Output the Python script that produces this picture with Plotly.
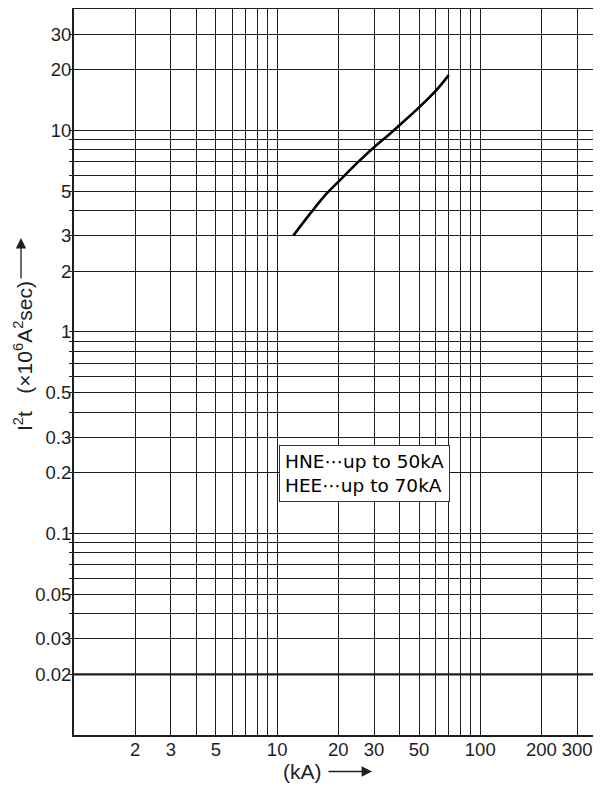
import math
import plotly.graph_objects as go

# ---- data ----
curve_ka = [12, 14.8, 17.5, 20, 25, 30, 35, 40, 50, 60, 70]
curve_i2t = [3.0, 3.95, 4.85, 5.55, 6.95, 8.25, 9.4, 10.6, 13.0, 15.6, 18.8]

x_major = [2, 3, 5, 10, 20, 30, 50, 100, 200, 300]
x_minor = [4, 6, 7, 8, 9, 40, 60, 70, 80, 90]

y_major = [30, 20, 10, 5, 3, 2, 1, 0.5, 0.3, 0.2, 0.1, 0.05, 0.03, 0.02]
y_major_text = ["30", "20", "10", "5", "3", "2", "1", "0.5", "0.3", "0.2",
                "0.1", "0.05", "0.03", "0.02"]
y_minor = [9, 8, 7, 6, 4, 0.9, 0.8, 0.7, 0.6, 0.4,
           0.09, 0.08, 0.07, 0.06, 0.04]

x_min, x_max = 1, 393
y_min, y_max = 0.01, 40
ref_line_y = 0.02

note_lines = ["HNE⋯up to 50kA", "HEE⋯up to 70kA"]

INK = "#1e1e1e"
FONT = "Liberation Sans, Arial, sans-serif"

# page has an 8px body margin: the figure is placed at (8, 8)
OFF = 8
PAGE_W, PAGE_H = 601, 787
W, H = PAGE_W - OFF, PAGE_H - OFF
# plot area in page pixels: left 74, top 9, bottom 735, right 601
ML = 74 - OFF
MT = 9 - OFF
MB = H - (735 - OFF)
MR = 0
PW, PH = W - ML - MR, H - MT - MB


def px(xp):
    return (xp - OFF - ML) / PW


def py(yp):
    return (H - MB - (yp - OFF)) / PH


fig = go.Figure()

fig.add_trace(go.Scatter(
    x=[x_min, x_max], y=[ref_line_y, ref_line_y], mode="lines",
    line=dict(color=INK, width=2.2), hoverinfo="skip", showlegend=False,
))

fig.add_trace(go.Scatter(
    x=curve_ka, y=curve_i2t, mode="lines",
    line=dict(color="#000000", width=2.6, shape="spline", smoothing=1.0),
    showlegend=False,
))

grid = dict(showgrid=True, gridcolor=INK, gridwidth=1.2)
NB = "\u00a0"

fig.update_layout(
    width=W, height=H,
    margin=dict(l=ML, r=MR, t=MT, b=MB, pad=0),
    paper_bgcolor="white", plot_bgcolor="white",
    font=dict(family=FONT, color=INK),
    xaxis=dict(
        type="log", range=[math.log10(x_min), math.log10(x_max)],
        tickmode="array", tickvals=x_major, ticktext=[str(v) for v in x_major],
        **grid,
        minor=dict(tickmode="array", tickvals=x_minor, ticks="", **grid),
        showline=True, linecolor=INK, linewidth=2, mirror=True,
        ticks="", tickfont=dict(size=18.5, family=FONT, color=INK),
        ticklabelstandoff=-3,
        zeroline=False, automargin=False,
    ),
    yaxis=dict(
        type="log", range=[math.log10(y_min), math.log10(y_max)],
        tickmode="array", tickvals=y_major, ticktext=y_major_text,
        **grid,
        minor=dict(tickmode="array", tickvals=y_minor, ticks="outside",
                   ticklen=3, tickwidth=1.2, tickcolor=INK, **grid),
        showline=True, linecolor=INK, linewidth=2,
        ticks="outside", ticklen=3, tickwidth=1.2, tickcolor=INK,
        tickfont=dict(size=18.5, family=FONT, color=INK),
        ticklabelstandoff=-6,
        zeroline=False, automargin=False,
    ),
    annotations=[
        dict(xref="paper", yref="paper", x=px(364), y=py(473.7),
             text="<br>".join(note_lines), showarrow=False, align="left",
             font=dict(family="DejaVu Sans, sans-serif", size=18.5, color="#000"),
             bgcolor="white", bordercolor="#333", borderwidth=1, borderpad=5,
             xanchor="center", yanchor="middle"),
        dict(xref="paper", yref="paper", x=px(302.7), y=py(771.5),
             text="(kA)", showarrow=False,
             font=dict(family=FONT, size=21, color=INK),
             xanchor="center", yanchor="middle"),
        dict(xref="paper", yref="paper", x=px(372), y=py(771.5),
             text="", showarrow=True, ax=-45, ay=0,
             arrowhead=2, arrowsize=1.6, arrowwidth=1.3, arrowcolor=INK),
        dict(xref="paper", yref="paper", x=px(23), y=py(356),
             text="I<sup>2</sup>t" + NB * 3 + "(×10<sup>6</sup>A<sup>2</sup>sec)",
             textangle=-90, showarrow=False,
             font=dict(family=FONT, size=21, color=INK),
             xanchor="center", yanchor="middle"),
        dict(xref="paper", yref="paper", x=px(21), y=py(238),
             text="", showarrow=True, ax=0, ay=42,
             arrowhead=2, arrowsize=1.6, arrowwidth=1.3, arrowcolor=INK),
    ],
)

fig.write_html("out.html")
